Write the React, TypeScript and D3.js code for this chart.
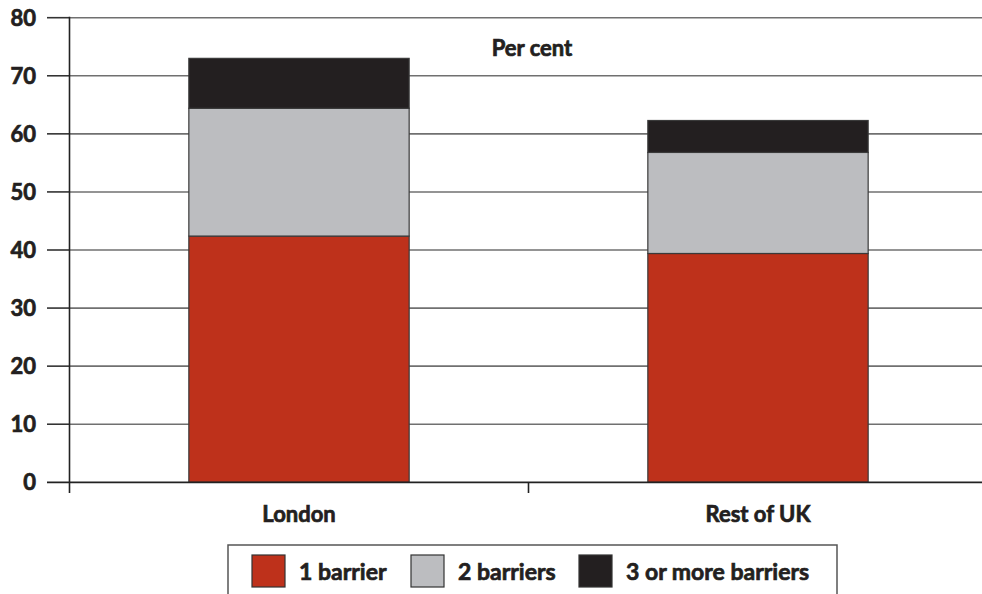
import React from "react";
import * as d3 from "d3";

const categories = ["London", "Rest of UK"];
const seriesNames = ["1 barrier", "2 barriers", "3 or more barriers"];
const oneBarrier = [42.4, 39.4];
const twoBarriers = [22.0, 17.4];
const threePlus = [8.6, 5.5];
const yTicks = [0, 10, 20, 30, 40, 50, 60, 70, 80];
const colors = ["#BE311B", "#BCBDC0", "#231F20"];

const W = 982;
const H = 594;
const FONT = "Lato, 'Open Sans', sans-serif";
const TXT = { fill: "#231F20", stroke: "#231F20", strokeWidth: 0.7, fontWeight: 700 } as const;

export default function App() {
  const y = d3.scaleLinear().domain([0, 80]).range([482.3, 17.7]);
  const x = d3
    .scaleBand<string>()
    .domain(categories)
    .range([69.5, 987.5])
    .paddingInner(0.52)
    .paddingOuter(0.26);

  const rows = categories.map((c, i) => ({
    cat: c,
    s0: oneBarrier[i],
    s1: twoBarriers[i],
    s2: threePlus[i],
  }));
  const stack = d3.stack<any>().keys(["s0", "s1", "s2"])(rows);

  const step = x.step();
  const dividers = categories.slice(1).map((c) => (x(c) as number) - (step * 0.52) / 2);

  const legendItems = [
    { sx: 252, tx: 299 },
    { sx: 411, tx: 458 },
    { sx: 579, tx: 626 },
  ];

  return (
    <svg
      width={W}
      height={H}
      style={{ position: "absolute", left: 0, top: 0, background: "#fff" }}
      fontFamily={FONT}
    >
      {/* gridlines */}
      {yTicks.filter((t) => t > 0).map((t) => (
        <g key={t}>
          <line x1={69.5} x2={W} y1={y(t)} y2={y(t)} stroke="#707070" strokeWidth={1.6} />
          <line x1={47} x2={69.5} y1={y(t)} y2={y(t)} stroke="#333" strokeWidth={1.6} />
        </g>
      ))}
      {/* bars */}
      {stack.map((layer, li) =>
        layer.map((d, i) => (
          <rect
            key={li + "-" + i}
            x={x(categories[i])}
            width={x.bandwidth()}
            y={y(d[1])}
            height={y(d[0]) - y(d[1])}
            fill={colors[li]}
            stroke="#3a3a3a"
            strokeWidth={1.2}
          />
        ))
      )}
      {/* zero line and axis */}
      <line x1={47} x2={W} y1={y(0)} y2={y(0)} stroke="#222" strokeWidth={1.8} />
      <line x1={69.5} x2={69.5} y1={y(80) - 1} y2={493} stroke="#222" strokeWidth={1.6} />
      {dividers.map((dx, i) => (
        <line key={i} x1={dx} x2={dx} y1={y(0)} y2={493} stroke="#222" strokeWidth={1.6} />
      ))}
      {/* y tick labels */}
      {yTicks.map((t) => (
        <text key={t} x={36} y={y(t)} dy="0.36em" textAnchor="end" fontSize={22} {...TXT}>
          {t}
        </text>
      ))}
      {/* title */}
      <text x={532} y={56} textAnchor="middle" fontSize={22} {...TXT}>
        Per cent
      </text>
      {/* category labels */}
      {categories.map((c) => (
        <text
          key={c}
          x={(x(c) as number) + x.bandwidth() / 2}
          y={522}
          textAnchor="middle"
          fontSize={22}
          {...TXT}
        >
          {c}
        </text>
      ))}
      {/* legend */}
      <rect x={228} y={545} width={609} height={60} fill="#fff" stroke="#555" strokeWidth={1.5} />
      {seriesNames.map((n, i) => (
        <g key={n}>
          <rect
            x={legendItems[i].sx}
            y={555}
            width={33}
            height={32}
            fill={colors[i]}
            stroke="#333"
            strokeWidth={1.2}
          />
          <text x={legendItems[i].tx} y={580} fontSize={23} {...TXT}>
            {n}
          </text>
        </g>
      ))}
    </svg>
  );
}
